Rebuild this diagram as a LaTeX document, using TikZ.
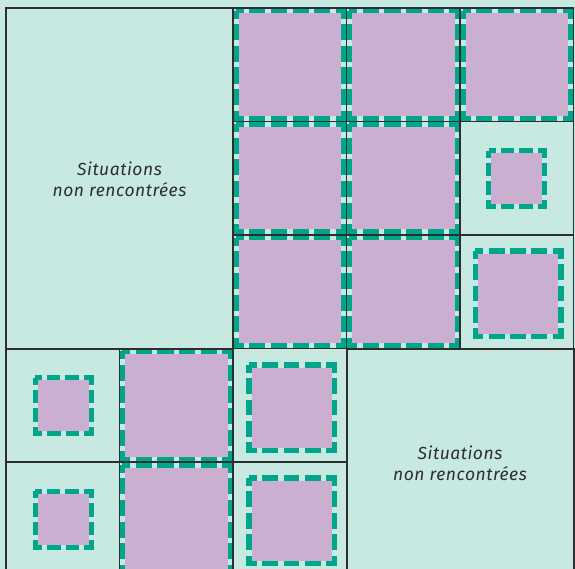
\documentclass[tikz,border=0pt]{standalone}
\usepackage{fontspec}
\newfontfamily\sitfont{Fira Sans}[LetterSpace=3]
\definecolor{bg}{HTML}{C8E9E2}
\definecolor{lil}{HTML}{CBAFD1}
\definecolor{tl}{HTML}{00A68A}
\definecolor{ln}{HTML}{2E2E2E}
\newcommand\fullsq[2]{%
  \fill[lil] (#1+5.5,#2+5.5) rectangle (#1+108,#2+108);
  \draw[fullborder] (#1+2.75,#2+2.75) rectangle (#1+110.75,#2+110.75);
}
\newcommand\smallsq[2]{%
  \fill[lil] (#1-25.5,#2-25.5) rectangle (#1+25.5,#2+25.5);
  \draw[smallborder] (#1-28,#2-28) rectangle (#1+28,#2+28);
}
\newcommand\medsq[2]{%
  \fill[lil] (#1-40,#2-40) rectangle (#1+40,#2+40);
  \draw[medborder] (#1-42.75,#2-42.75) rectangle (#1+42.75,#2+42.75);
}
\begin{document}
\begin{tikzpicture}[x=1pt,y=-1pt,
  fullborder/.style={tl, line width=5.5pt, dash pattern=on 16.1pt off 5.5pt, dash phase=8.05pt},
  smallborder/.style={tl, line width=5pt, dash pattern=on 13.67pt off 5pt, dash phase=6.83pt},
  medborder/.style={tl, line width=5.5pt, dash pattern=on 15.875pt off 5.5pt, dash phase=7.94pt},
  thinline/.style={ln, line width=1.1pt},
  thickline/.style={ln, line width=2pt},
  label/.style={text=ln, font=\sitfont\itshape\fontsize{17.5}{20.8}\selectfont, align=center}]
\useasboundingbox (0,0) rectangle (575,569);
\fill[bg] (0,0) rectangle (575,569);
% full-cell squares
\foreach \x/\y in {233/8, 346.5/8, 460/8, 233/121.5, 346.5/121.5, 233/235, 346.5/235, 119.5/348.5, 119.5/462}
  {\fullsq{\x}{\y}}
% small squares
\smallsq{516.75}{178.75}
\smallsq{63}{405.75}
\smallsq{63}{519.25}
% medium squares
\medsq{518}{293.5}
\medsq{291.5}{407.5}
\medsq{291.5}{520.8}
% thin grid lines
\draw[thinline] (119.5,348.5) -- (119.5,575);
\draw[thinline] (346.5,8) -- (346.5,348.5);
\draw[thinline] (460,8) -- (460,348.5);
\draw[thinline] (233,348.5) -- (233,575);
\draw[thinline] (233,121.5) -- (573.5,121.5);
\draw[thinline] (233,235) -- (573.5,235);
\draw[thinline] (6,462) -- (346.5,462);
\draw[thinline] (233,348.5) -- (346.5,348.5);
% outer frame
\draw[thinline, line width=1.6pt] (6,575) -- (6,8) -- (573.5,8) -- (573.5,575);
% thick rectangles
\draw[thickline] (6,8) rectangle (233,348.5);
\draw[thickline] (346.5,348.5) rectangle (573.5,576);
% labels
\node[label] (tl) at (119.5,179) {Situations\\non rencontrées};
\node[label] (br) at (460,463) {Situations\\non rencontrées};
\end{tikzpicture}
\end{document}
